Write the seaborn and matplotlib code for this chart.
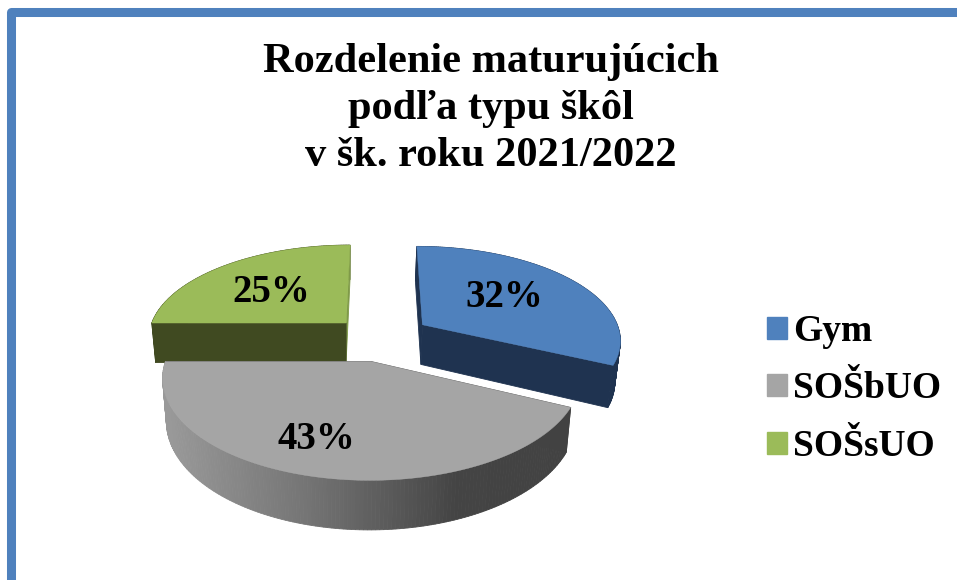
import numpy as np
import matplotlib
matplotlib.use("Agg")
import matplotlib.pyplot as plt
from matplotlib.colors import LinearSegmentedColormap
from matplotlib.patches import Patch, Polygon
import seaborn as sns

# ---- data ----
categories = ["Gym", "SOŠbUO", "SOŠsUO"]
shares = [32, 43, 25]
title_lines = ["Rozdelenie maturujúcich", "podľa typu škôl", "v šk. roku 2021/2022"]

# ---- styles ----
top_colors = ["#4F81BD", "#A5A5A5", "#9BBB59"]
wall_colors = ["#1F3350", "#808080", "#404A21"]
first_cut_colors = ["#1F3350", "#555555", "#7F9A48"]
second_cut_colors = ["#1F3350", "#555555", "#404A21"]
grey_wall = LinearSegmentedColormap.from_list(
    "grey_wall", [(0, "#999999"), (0.1, "#8E8E8E"), (0.33, "#757575"),
                  (0.55, "#585858"), (0.7, "#444444"), (1, "#424242")])

sns.set_theme(style="white")
plt.rcParams["font.family"] = ["Liberation Serif", "DejaVu Serif"]

fig = plt.figure(figsize=(9.57, 5.80), dpi=100)
ax = fig.add_axes([0, 0, 1, 1])

# Flat pie: gives the wedge geometry; it is then viewed in perspective.
wedges, _ = ax.pie(shares, startangle=90, counterclock=False,
                   explode=[0.27, 0.25, 0.232], colors=sns.color_palette(top_colors))
for w in wedges:
    w.set_visible(False)
ax.set_aspect("auto")
ax.set_xlim(0, 957)
ax.set_ylim(580, 0)
ax.axis("off")

CX, CY, KX, KY, PERSP = 378.0, 338.0, 199.0, 93.5, 0.147
DEPTH, XC_BOTTOM, SHRINK = 40.5, 345.0, 0.98
slice_shift = [0, 5, 0]


def top(X, Y):
    w = 1 + PERSP * np.asarray(Y)
    return CX + KX * np.asarray(X) / w, CY - KY * np.asarray(Y) / w


def bottom(X, Y):
    w = 1 + PERSP * np.asarray(Y)
    x, y = top(X, Y)
    return XC_BOTTOM + (x - XC_BOTTOM) * SHRINK, y + DEPTH / w


def wall(Xs, Ys):
    xt, yt = top(Xs, Ys)
    xb, yb = bottom(Xs, Ys)
    return [np.array([[xt[i], yt[i]], [xt[i + 1], yt[i + 1]],
                      [xb[i + 1], yb[i + 1]], [xb[i], yb[i]]])
            for i in range(len(Xs) - 1)]


# paint far slice first, the grey one stays in front
for idx in [2, 0, 1]:
    w = wedges[idx]
    cx, cy = w.center
    th = np.radians(np.linspace(w.theta1, w.theta2, 160))
    ax_x = cx + w.r * np.cos(th)
    ax_y = cy + w.r * np.sin(th)
    shift = np.array([slice_shift[idx], 0])

    quads = []
    for q in wall(ax_x, ax_y):
        mid = q[:, 0].mean()
        if idx == 1:
            col = grey_wall((mid - 165) / 410)
        else:
            col = wall_colors[idx]
        quads.append((q[:, 1].mean(), q, col))
    # the two straight cuts of the wedge
    for q in wall(np.linspace(cx, ax_x[0], 2), np.linspace(cy, ax_y[0], 2)):
        quads.append((q[:, 1].mean(), q, first_cut_colors[idx]))
    for q in wall(np.linspace(cx, ax_x[-1], 2), np.linspace(cy, ax_y[-1], 2)):
        quads.append((q[:, 1].mean(), q, second_cut_colors[idx]))
    for _, q, col in sorted(quads, key=lambda t: t[0]):
        ax.add_patch(Polygon(q + shift, closed=True, facecolor=col, edgecolor=col, lw=0.6))

    xs = np.r_[cx, ax_x]
    ys = np.r_[cy, ax_y]
    fx, fy = top(xs, ys)
    ax.add_patch(Polygon(np.c_[fx, fy] + shift, closed=True, facecolor=top_colors[idx],
                         edgecolor=top_colors[idx], lw=0.3))

# percent labels, placed along each wedge's bisector
nudges = [(-10, 0), (-20, 13), (1, 5)]
for w, s, (dx, dy) in zip(wedges, shares, nudges):
    mid = np.radians((w.theta1 + w.theta2) / 2)
    lx, ly = top(w.center[0] + 0.6 * np.cos(mid), w.center[1] + 0.6 * np.sin(mid))
    ax.text(lx + dx, ly + dy, f"{s}%", ha="center", va="center",
            fontsize=28, fontweight="bold", color="black")

ax.set_title("\n".join(title_lines), fontsize=30.5, fontweight="bold", color="black",
             x=491 / 957, y=1 - 51 / 580, va="top", linespacing=1.315)

handles = [Patch(facecolor=c, edgecolor=c, label=n)
           for c, n in zip(top_colors, categories)]
ax.legend(handles=handles, loc="upper left", frameon=False,
          bbox_to_anchor=(767 / 957, 1 - 314 / 580),
          prop={"size": 27, "weight": "bold"}, labelcolor="black",
          handlelength=0.52, handleheight=0.52, handletextpad=0.17,
          labelspacing=0.6, borderpad=0, borderaxespad=0)

# chart frame: only its left and top sides fall inside the picture
ax.plot([10.5, 10.5, 1000], [620, 11.5, 11.5], color="#4F81BD", lw=6.5,
        solid_joinstyle="round", clip_on=True)

fig.savefig("out.png", dpi=100)
